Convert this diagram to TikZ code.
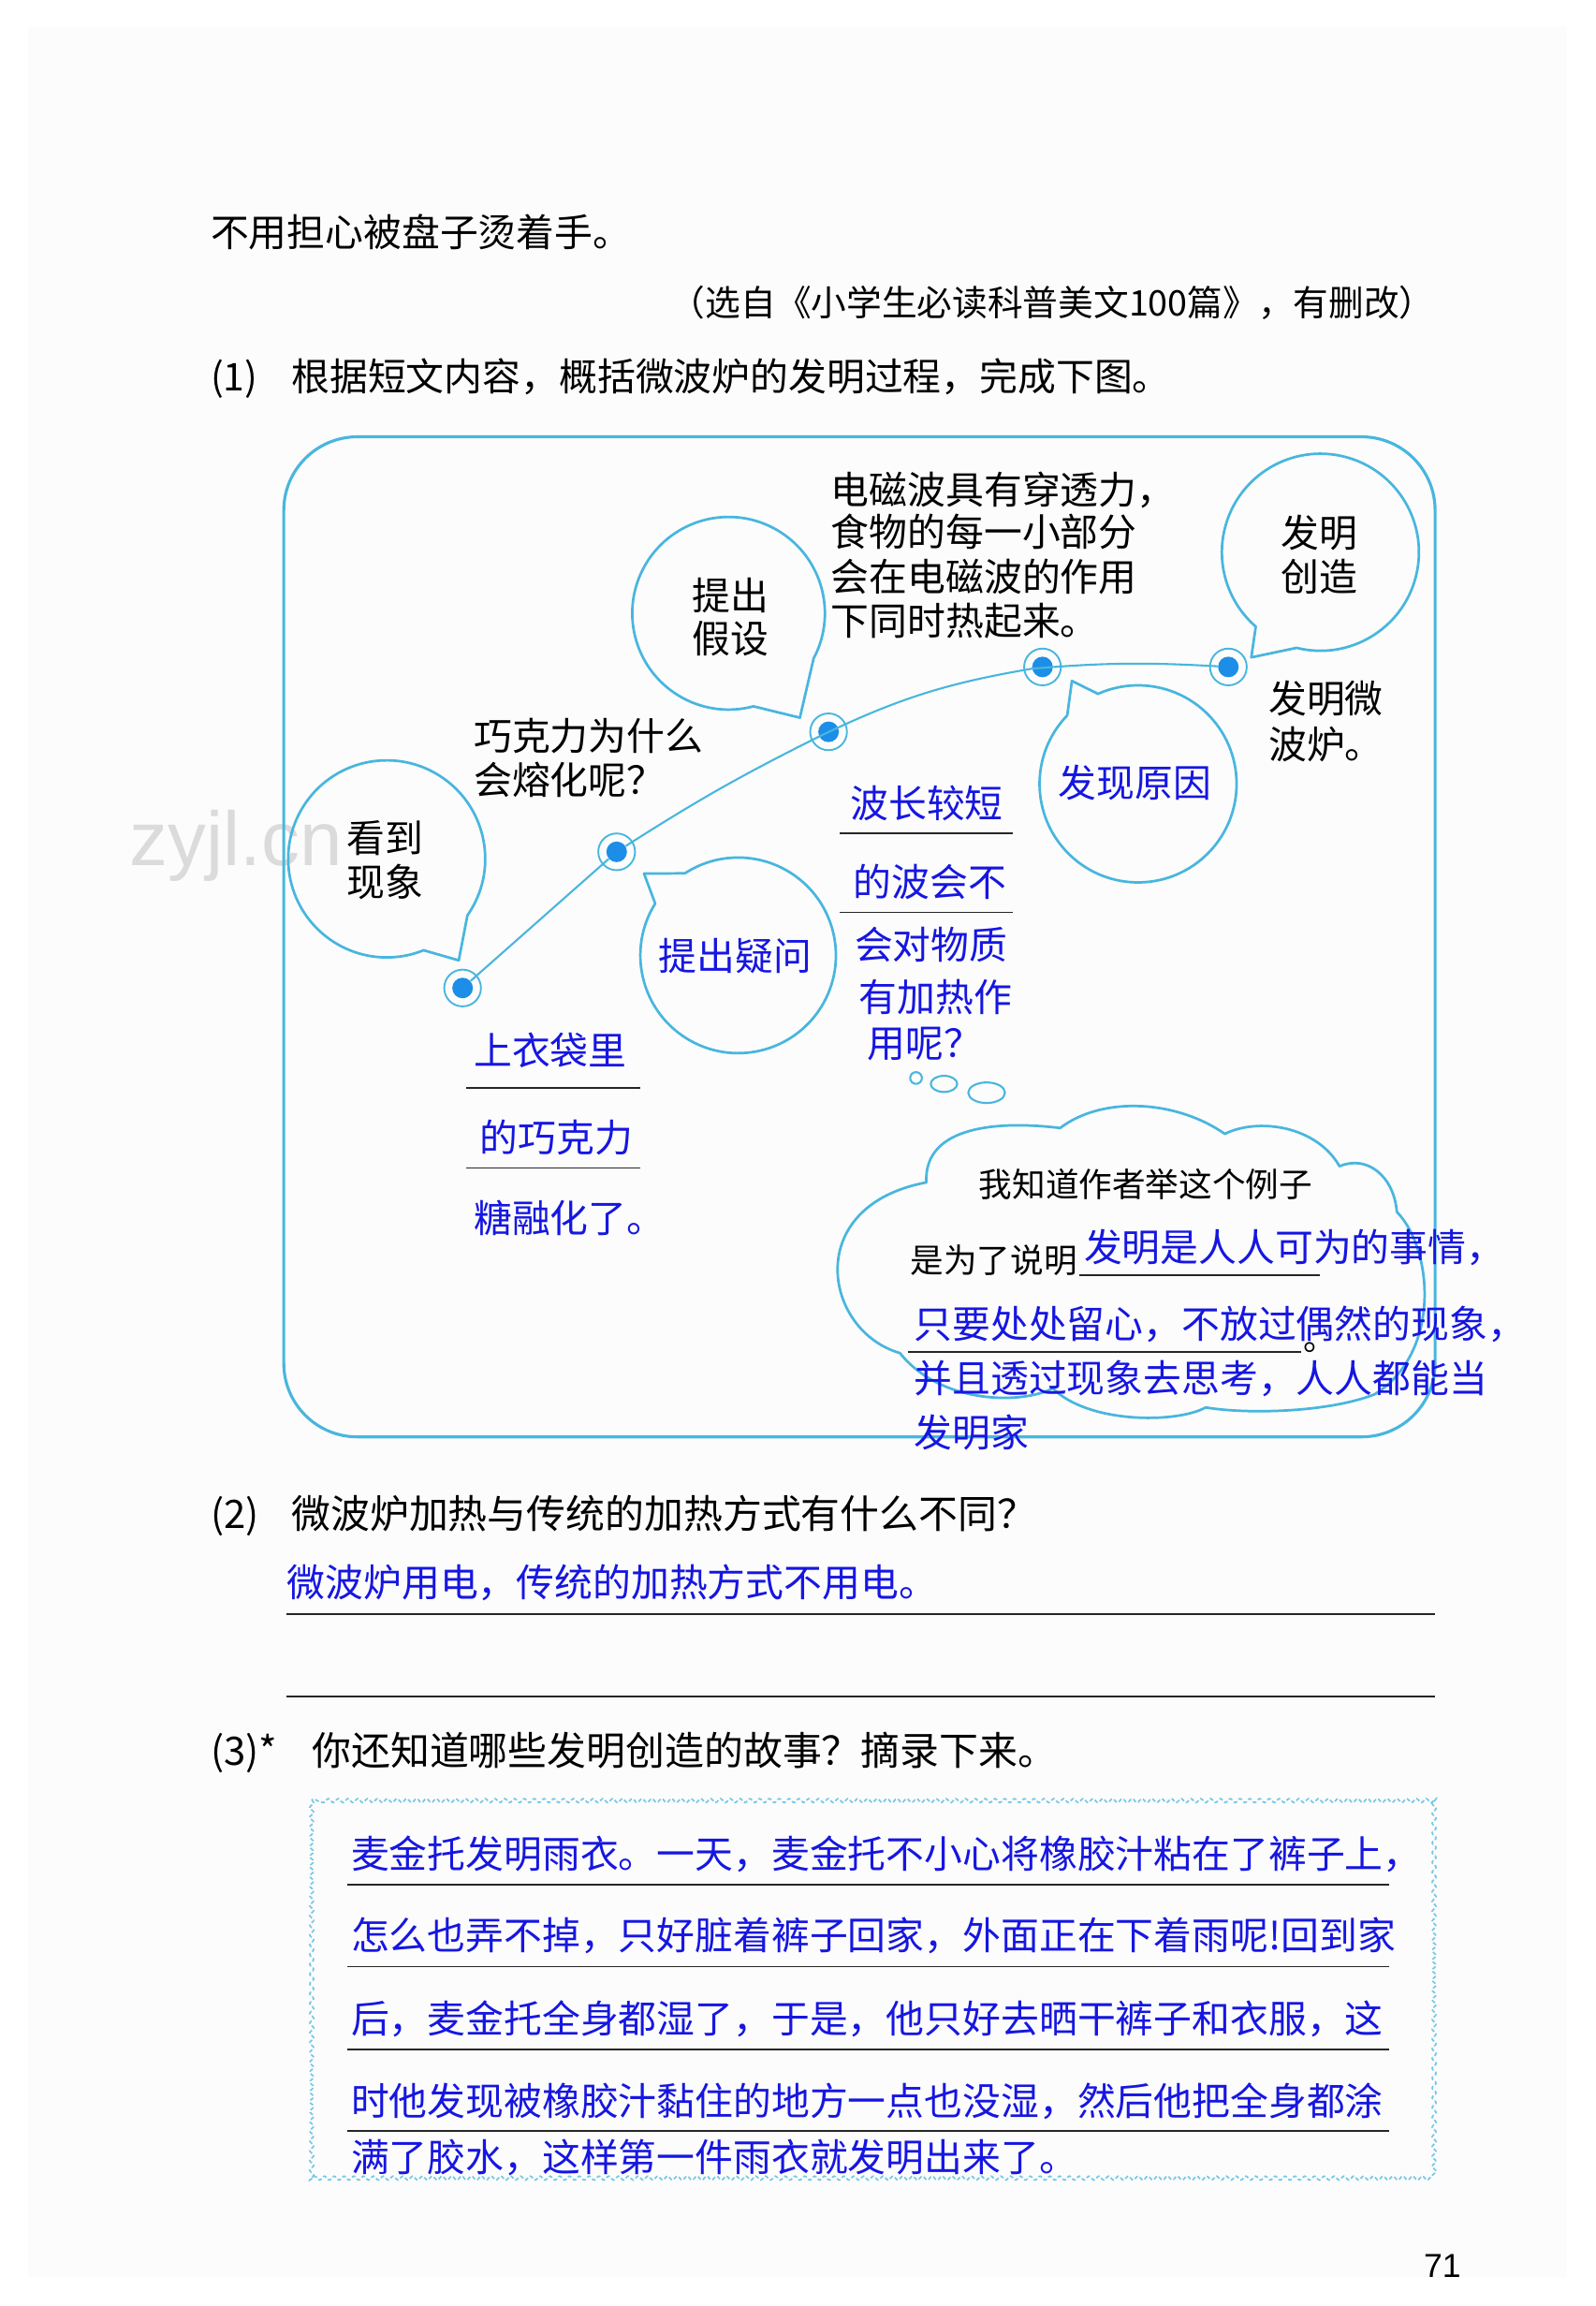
\documentclass[tikz,border=0pt]{standalone}
\usepackage{fontspec}
\setmainfont{Noto Sans CJK SC}
\newfontfamily\latinsans{Liberation Sans}
\usetikzlibrary{decorations.pathmorphing}
\definecolor{frameblue}{RGB}{72,182,222}
\definecolor{dotblue}{RGB}{28,142,232}
\definecolor{ansblue}{RGB}{22,22,225}
\definecolor{pagegray}{RGB}{252,252,252}
\newcommand\speechbub[7]{\draw[bubble] (#1,#2) ++(#4:#3) arc[start angle=#4, end angle=#5, radius=#3] -- (#6,#7) -- cycle;}
\begin{document}
\begin{tikzpicture}[x=0.75pt,y=0.75pt,
  txt/.style={inner sep=0pt, anchor=west},
  fb/.style={font=\fontsize{19.5pt}{22pt}\selectfont, text height=16.2pt, text depth=1.4pt},
  fq/.style={font=\fontsize{20pt}{22pt}\selectfont, text height=16.6pt, text depth=1.4pt},
  fs/.style={font=\fontsize{17pt}{20pt}\selectfont, text height=14.1pt, text depth=1.2pt},
  fc/.style={font=\fontsize{18pt}{20pt}\selectfont, text height=14.9pt, text depth=1.3pt},
  blk/.style={txt, fb, text=black},
  ans/.style={txt, fb, text=ansblue},
  bubble/.style={draw=frameblue, line width=1.3pt, line join=round},
  uline/.style={draw=black!85, line width=0.9pt},
  dotfill/.style={circle, fill=dotblue, inner sep=0pt, minimum size=10.5pt},
  dotring/.style={circle, draw=frameblue, line width=0.9pt, inner sep=0pt, minimum size=18.75pt},
  wavy/.style={draw=frameblue!75, line width=0.8pt, decorate, decoration={snake, amplitude=1pt, segment length=5pt}, dash pattern=on 2pt off 1.2pt},
]
\useasboundingbox (0,0) rectangle (1085,-1568);
\fill[pagegray] (19,-18) rectangle (1066,-1549);

% watermark
\node[txt, font=\latinsans\fontsize{39pt}{42pt}\selectfont, text=gray!28] (wm) at (88,-575) {zyjl.cn};

% header text
\node[blk] (l1) at (143,-158) {不用担心被盘子烫着手。};
\node[txt, fc, anchor=east] (cite) at (976,-206) {（选自《小学生必读科普美文100篇》，有删改）};
\node[blk] (q1n) at (143,-256) {(1)};
\node[blk] (q1) at (198,-256) {根据短文内容，概括微波炉的发明过程，完成下图。};

% frame
\draw[draw=frameblue, line width=1.5pt, rounded corners=37.5pt] (193,-297) rectangle (976,-977);

% speech bubbles
\speechbub{263}{-584}{67}{-35}{292}{312}{-653}
\speechbub{495.5}{-417}{65.5}{-28}{285}{544}{-488}
\speechbub{898}{-375.5}{67}{-104}{229}{851}{-447}
\speechbub{502}{-649.6}{66.5}{148}{483}{438}{-594}
\speechbub{774}{-533}{67}{136}{474}{729}{-463}

% thought cloud
\draw[bubble] (630,-804) .. controls (628,-765) and (680,-762) .. (721,-767)
  .. controls (750,-745) and (800,-748) .. (833,-771)
  .. controls (855,-760) and (895,-765) .. (911,-793)
  .. controls (930,-785) and (948,-800) .. (950,-824)
  .. controls (975,-850) and (980,-920) .. (935,-948)
  .. controls (905,-960) and (850,-962) .. (820,-957)
  .. controls (800,-968) and (740,-968) .. (716,-944)
  .. controls (695,-955) and (640,-955) .. (612,-920)
  .. controls (560,-905) and (545,-820) .. (630,-804) -- cycle;
\draw[bubble, line width=1pt] (623,-733) circle[radius=4];
\draw[bubble, line width=1pt] (642,-737) ellipse[x radius=9, y radius=5.5];
\draw[bubble, line width=1pt] (671,-743) ellipse[x radius=12.5, y radius=7];

% timeline dots
\node[dotfill] (d1) at (314.6,-671.8) {};
\node[dotfill] (d2) at (419.4,-579.2) {};
\node[dotfill] (d3) at (563.5,-497.6) {};
\node[dotfill] (d4) at (709,-453.5) {};
\node[dotfill] (d5) at (835.4,-453.5) {};
\draw[draw=frameblue, line width=1pt] (d1) -- (d2) to[bend left=3] (d3) to[bend left=8] (d4) to[bend left=4] (d5);
\node[dotring] (r1) at (d1) {};
\node[dotring] (r2) at (d2) {};
\node[dotring] (r3) at (d3) {};
\node[dotring] (r4) at (d4) {};
\node[dotring] (r5) at (d5) {};

% bubble labels
\node[blk, anchor=center] (see1) at (262,-570) {看到};
\node[blk, anchor=center] (see2) at (262,-600) {现象};
\node[blk, anchor=center] (hyp1) at (497,-405) {提出};
\node[blk, anchor=center] (hyp2) at (497,-434) {假设};
\node[blk, anchor=center] (inv1) at (897,-362.5) {发明};
\node[blk, anchor=center] (inv2) at (897,-392) {创造};
\node[ans, anchor=center] (ask) at (500,-650) {提出疑问};
\node[ans, anchor=center] (cause) at (772,-532) {发现原因};

% black labels
\node[blk] (why1) at (322,-500.5) {巧克力为什么};
\node[blk] (why2) at (322,-530) {会熔化呢？};
\node[blk] (em1) at (565,-332.7) {电磁波具有穿透力，};
\node[blk] (em2) at (565,-361.5) {食物的每一小部分};
\node[blk] (em3) at (565,-392) {会在电磁波的作用};
\node[blk] (em4) at (565,-422) {下同时热起来。};
\node[blk] (mw1) at (862.5,-475) {发明微};
\node[blk] (mw2) at (862.5,-506) {波炉。};

% blue answers in diagram
\node[ans] (a1) at (322,-714) {上衣袋里};
\draw[uline] (317,-739.5) -- (435.5,-739.5);
\node[ans] (a2) at (326,-773.6) {的巧克力};
\draw[uline] (317,-794.2) -- (435.5,-794.2);
\node[ans] (a3) at (322,-828) {糖融化了。};
\node[ans] (b1) at (578,-546) {波长较短};
\draw[uline] (571,-566.4) -- (689,-566.4);
\node[ans] (b2) at (580,-600) {的波会不};
\draw[uline] (571,-620.4) -- (689,-620.4);
\node[ans] (b3) at (581,-642.5) {会对物质};
\node[ans] (b4) at (584,-678) {有加热作};
\node[ans] (b5) at (589.6,-709.4) {用呢？};

% cloud text
\node[txt, fs] (c1) at (665.6,-805) {我知道作者举这个例子};
\node[txt, fs] (c2) at (619,-857) {是为了说明};
\node[ans] (c3) at (737,-848) {发明是人人可为的事情，};
\draw[uline] (734,-867.3) -- (897.4,-867.3);
\node[ans] (c4) at (621.4,-900) {只要处处留心，不放过偶然的现象，};
\draw[uline] (617.5,-919.3) -- (885.2,-919.3);
\node[inner sep=0pt, anchor=base west, font=\fontsize{17pt}{20pt}\selectfont] (c4p) at (886,-918) {。};
\node[ans] (c5) at (621.4,-937.4) {并且透过现象去思考，人人都能当};
\node[ans] (c6) at (621.4,-974) {发明家};

% question 2
\node[txt, fq] (q2n) at (143,-1029.4) {(2)};
\node[txt, fq] (q2) at (198,-1029.4) {微波炉加热与传统的加热方式有什么不同？};
\node[ans] (ans2) at (195,-1076) {微波炉用电，传统的加热方式不用电。};
\draw[uline] (194.8,-1097.8) -- (976,-1097.8);
\draw[uline] (194.8,-1153.6) -- (976,-1153.6);

% question 3
\node[txt, fq] (q3n) at (143,-1190) {(3)*};
\node[txt, fq] (q3) at (212,-1190) {你还知道哪些发明创造的故事？摘录下来。};
\draw[wavy] (212,-1223.6) rectangle (975,-1480.5);
\node[ans] (m1) at (238.5,-1260.7) {麦金托发明雨衣。一天，麦金托不小心将橡胶汁粘在了裤子上，};
\draw[uline] (236,-1281.6) -- (945,-1281.6);
\node[ans] (m2) at (238.5,-1316) {怎么也弄不掉，只好脏着裤子回家，外面正在下着雨呢!回到家};
\draw[uline] (236,-1337.2) -- (945,-1337.2);
\node[ans] (m3) at (238.5,-1372.8) {后，麦金托全身都湿了，于是，他只好去晒干裤子和衣服，这};
\draw[uline] (236,-1393.4) -- (945,-1393.4);
\node[ans] (m4) at (238.5,-1428.4) {时他发现被橡胶汁黏住的地方一点也没湿，然后他把全身都涂};
\draw[uline] (236,-1449.2) -- (945,-1449.2);
\node[ans] (m5) at (238.5,-1466.6) {满了胶水，这样第一件雨衣就发明出来了。};

% page number
\node[inner sep=0pt, font=\latinsans\fontsize{17pt}{18pt}\selectfont] (pg) at (981,-1541) {71};
\end{tikzpicture}
\end{document}
